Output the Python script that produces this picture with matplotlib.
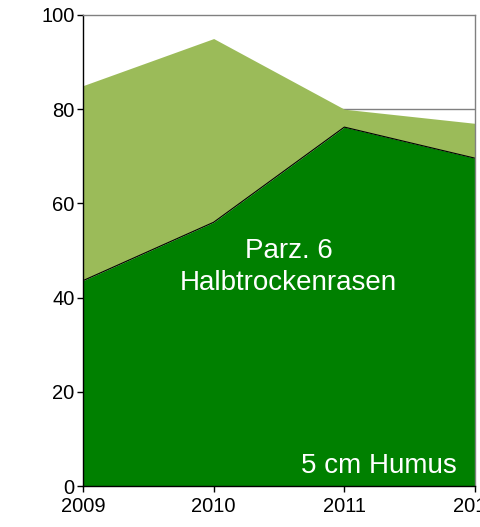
import matplotlib
matplotlib.use("Agg")
import matplotlib.pyplot as plt

years = [2009, 2010, 2011, 2012]
dark_cover = [43.6, 56.0, 76.2, 69.6]
total_cover = [85.0, 95.0, 80.0, 77.0]
y_ticks = [0, 20, 40, 60, 80, 100]
x_ticks = [2009, 2010, 2011, 2012]

plt.rcParams['font.family'] = ['Liberation Sans', 'DejaVu Sans']

fig = plt.figure(figsize=(4.8, 5.27), dpi=100)
ax = fig.add_axes([83/480, 1-486/527, (475-83)/480, (486-15)/527])

for yv in y_ticks[1:-1]:
    ax.axhline(yv, color='#808080', lw=1.0, zorder=0)

ax.fill_between(years, dark_cover, total_cover, color='#9BBB59', lw=0, zorder=1)
ax.fill_between(years, 0, dark_cover, color='#008000', lw=0, zorder=2)
ax.plot(years, dark_cover, color='black', lw=0.8, zorder=3)

ax.set_xlim(2009, 2012)
ax.set_ylim(0, 100)
ax.set_xticks(x_ticks)
ax.set_xticklabels([str(x) for x in x_ticks])
ax.set_yticks(y_ticks)
ax.tick_params(direction='out', length=4, width=1, labelsize=14.5)
ax.tick_params(axis='x', pad=4)
ax.tick_params(axis='y', pad=2)

ax.spines['left'].set_color('black')
ax.spines['bottom'].set_color('black')
ax.spines['top'].set_color('#808080')
ax.spines['right'].set_color('#808080')
for s in ax.spines.values():
    s.set_linewidth(1.0)
    s.set_zorder(4)

ax.text(0.525, 0.465, "Parz. 6\nHalbtrockenrasen", transform=ax.transAxes,
        ha='center', va='center', color='white', fontsize=20, linespacing=1.32, zorder=5)
ax.text(0.954, 0.043, "5 cm Humus", transform=ax.transAxes,
        ha='right', va='center', color='white', fontsize=20, zorder=5)

fig.savefig("out.png", dpi=100)
